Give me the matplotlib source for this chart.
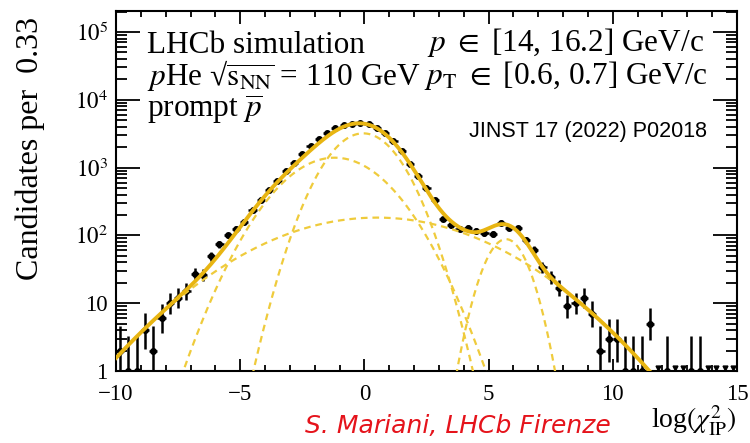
import numpy as np
import matplotlib
matplotlib.use("Agg")
import matplotlib.pyplot as plt
from matplotlib.ticker import FixedLocator, NullFormatter

plt.rcParams['font.family'] = ['Liberation Serif', 'DejaVu Serif']
plt.rcParams['mathtext.fontset'] = 'stix'

# ---------------- data ----------------
x_min, x_max = -10.0, 15.0
n_bins = 75
counts = [2, 1, 1, 4, 2, 6, 10, 12, 15, 27,
          26, 49, 74, 100, 125, 160, 240, 330, 470, 640,
          880, 1180, 1600, 2100, 2650, 3250, 3800, 4200, 4450, 4550,
          4450, 3900, 3200, 2450, 1780, 1120, 760, 500, 330, 175,
          141, 126, 130, 118, 110, 106, 154, 130, 128, 85,
          60, 34, 24, 17, 9, 10, 12, 7, 2, 3,
          3, 1, 1, 1, 5, 0, 1, 0, 0, 1,
          1, 0, 0, 0, 0]

# fit components (gaussian in log chi2): amplitude, mean, sigma
comp_amp = [3200.0, 1400.0, 183.0, 88.0]
comp_mean = [-0.05, -1.2, 0.5, 5.7]
comp_sigma = [1.1, 1.6, 3.4, 0.66]

ytick_vals = [1, 10, 100, 1e3, 1e4, 1e5]
ytick_labels = ["1", "10", "$10^2$", "$10^3$", "$10^4$", "$10^5$"]
xtick_vals = [-10, -5, 0, 5, 10, 15]
xtick_labels = ["\u221210", "\u22125", "0", "5", "10", "15"]

# ---------------- helpers ----------------
def pois_cdf(n, mu):
    term = np.exp(-mu)
    s = term
    for k in range(1, n + 1):
        term *= mu / k
        s += term
    return s

def garwood(n):
    a = 0.15865
    if n > 60:
        return n - np.sqrt(n), n + np.sqrt(n)
    lo, hi = n, n + 20 + 5 * np.sqrt(n + 1)
    for _ in range(80):
        m = 0.5 * (lo + hi)
        if pois_cdf(n, m) > a:
            lo = m
        else:
            hi = m
    up = 0.5 * (lo + hi)
    if n == 0:
        return 0.0, up
    lo, hi = 0.0, n
    for _ in range(80):
        m = 0.5 * (lo + hi)
        if 1 - pois_cdf(n - 1, m) < a:
            lo = m
        else:
            hi = m
    return 0.5 * (lo + hi), up

edges = np.linspace(x_min, x_max, n_bins + 1)
centers = 0.5 * (edges[:-1] + edges[1:])
half_w = 0.5 * (edges[1] - edges[0])
cnt = np.array(counts, dtype=float)

fig = plt.figure(figsize=(7.5, 4.43), dpi=100)
ax = fig.add_axes([116 / 750, 1 - 371 / 443, (737 - 116) / 750, (371 - 11) / 443])
ax.set_yscale('log')
ax.set_xlim(x_min, x_max)
ax.set_ylim(1.0, 2.04e5)

# data points
nz = cnt > 0
lows, ups = [], []
for n in counts:
    if n > 0:
        l, u = garwood(n)
        lows.append(n - l)
        ups.append(u - n)
ax.errorbar(centers[nz], cnt[nz], yerr=[lows, ups], xerr=half_w,
            fmt='o', color='black', ms=4.0, elinewidth=1.8, capsize=0, zorder=3)
# empty bins: small marks at the bottom
zc = centers[~nz]
ax.plot(zc, np.full(zc.shape, 1.09), linestyle='none', marker='v', ms=3.5,
        color='black', zorder=3, clip_on=True)

# fit curves
xf = np.linspace(x_min, x_max, 1500)
comps = [a * np.exp(-0.5 * ((xf - m) / s) ** 2) for a, m, s in zip(comp_amp, comp_mean, comp_sigma)]
for c in comps:
    ax.plot(xf, c, color='#EFCB3C', lw=1.6, ls=(0, (3, 2.2)), zorder=4)
ax.plot(xf, np.sum(comps, axis=0), color='#E8B512', lw=2.8, zorder=5)

# ticks (ROOT style)
ax.yaxis.set_major_locator(FixedLocator(ytick_vals))
ax.set_yticklabels(ytick_labels)
minors = []
for d in range(0, 6):
    for k in range(2, 10):
        minors.append(k * 10 ** d)
ax.yaxis.set_minor_locator(FixedLocator(minors))
ax.yaxis.set_minor_formatter(NullFormatter())
ax.xaxis.set_major_locator(FixedLocator(xtick_vals))
ax.set_xticklabels(xtick_labels)
ax.xaxis.set_minor_locator(FixedLocator(np.arange(-10, 16, 1)))
ax.tick_params(axis='both', which='both', direction='in', top=True, right=True,
               labelsize=16.5, width=1.3, colors='black')
ax.tick_params(axis='y', which='major', length=17, pad=6)
ax.tick_params(axis='y', which='minor', length=8)
ax.tick_params(axis='x', which='major', length=9, pad=9)
ax.tick_params(axis='x', which='minor', length=4.5)
for sp in ax.spines.values():
    sp.set_linewidth(1.5)

fig.text(30 / 750, 1 - 148 / 443, "Candidates per  0.33", fontsize=23, rotation=90,
         ha='center', va='center')
fig.text(737 / 750, 1 - 429 / 443, r"log$(\chi^2_{\mathrm{IP}})$", fontsize=20,
         ha='right', va='baseline')

# annotations
fs = 22.5
fig.text(147 / 750, 1 - 53 / 443, "LHCb simulation", fontsize=fs, va='baseline')
fig.text(147 / 750, 1 - 85 / 443, "$p$He \u221a$\\overline{\\mathrm{s}_{\\mathrm{NN}}}$ = 110 GeV",
         fontsize=fs, va='baseline')
fig.text(147 / 750, 1 - 117 / 443, r"prompt $\overline{p}$", fontsize=fs, va='baseline')
fig.text(704 / 750, 1 - 51 / 443, r"$p$ $\in$ [14, 16.2] GeV/c", fontsize=fs, va='baseline', ha='right')
fig.text(708 / 750, 1 - 84 / 443, r"$p_{\mathrm{T}}$ $\in$ [0.6, 0.7] GeV/c", fontsize=fs, va='baseline', ha='right')
fig.text(707 / 750, 1 - 137 / 443, "JINST 17 (2022) P02018", fontsize=15.5, va='baseline', ha='right',
         family=['Liberation Sans', 'DejaVu Sans'])
fig.text(458 / 750, 1 - 426 / 443, "S. Mariani, LHCb Firenze", fontsize=18, color='#E5131B',
         ha='center', va='center', style='italic', family=['DejaVu Sans'])

fig.savefig("out.png", dpi=100)
